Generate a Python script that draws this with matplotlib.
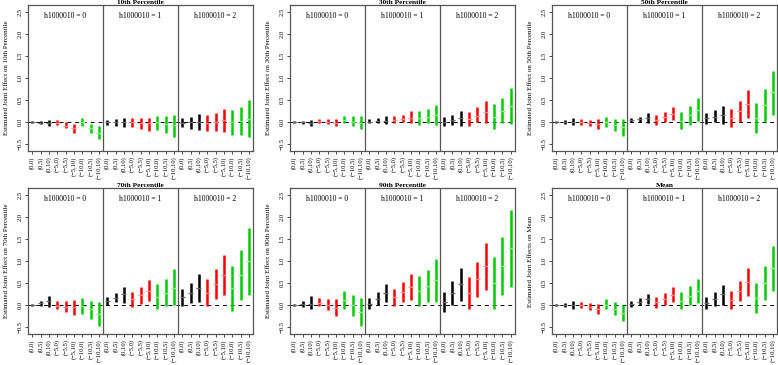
import numpy as np
import matplotlib.pyplot as plt

plt.rcParams['font.family'] = ['Liberation Serif', 'DejaVu Serif']

# categories on each facet: (change a, change b)
cats = ["(0,0)", "(0,5)", "(0,10)", "(\u22125,0)", "(\u22125,5)", "(\u22125,10)",
        "(\u221210,0)", "(\u221210,5)", "(\u221210,10)"]
facets = [0, 1, 2]
titles = ["10th Percentile", "30th Percentile", "50th Percentile",
          "70th Percentile", "90th Percentile", "Mean"]
ylabels = ["Estimated Joint Effect on 10th Percentile",
           "Estimated Joint Effect on 30th Percentile",
           "Estimated Joint Effect on 50th Percentile",
           "Estimated Joint Effect on 70th Percentile",
           "Estimated Joint Effect on 90th Percentile",
           "Estimated Joint Effects on Mean"]

# estimates and interval ends, 27 per panel (facet 0, 1, 2 x 9 categories)
p10_est = [0.00, -0.02, -0.03, -0.02, -0.08, -0.14, 0.00, -0.13, -0.25,
           -0.01, -0.01, -0.01, 0.00, -0.02, -0.02, 0.00, -0.05, -0.06,
           -0.02, -0.01, 0.00, -0.02, 0.00, 0.04, -0.01, 0.02, 0.07]
p10_lo = [-0.02, -0.05, -0.10, -0.07, -0.14, -0.24, -0.08, -0.24, -0.38,
          -0.06, -0.08, -0.12, -0.12, -0.15, -0.20, -0.19, -0.24, -0.33,
          -0.12, -0.15, -0.18, -0.20, -0.20, -0.22, -0.30, -0.30, -0.35]
p10_hi = [0.02, 0.02, 0.04, 0.04, -0.01, -0.05, 0.08, -0.04, -0.10,
          0.04, 0.06, 0.08, 0.08, 0.09, 0.10, 0.14, 0.13, 0.15,
          0.08, 0.11, 0.18, 0.15, 0.20, 0.29, 0.27, 0.34, 0.49]

p30_est = [0.00, -0.01, -0.02, 0.02, 0.00, -0.02, 0.05, 0.00, -0.02,
           0.01, 0.02, 0.03, 0.04, 0.07, 0.10, 0.08, 0.12, 0.17,
           0.00, 0.04, 0.08, 0.06, 0.14, 0.22, 0.12, 0.24, 0.36]
p30_lo = [-0.02, -0.04, -0.09, -0.02, -0.05, -0.10, -0.02, -0.08, -0.17,
          -0.03, -0.03, -0.05, -0.03, -0.01, -0.02, -0.06, -0.02, -0.07,
          -0.10, -0.07, -0.10, -0.10, -0.01, -0.02, -0.16, -0.03, -0.05]
p30_hi = [0.02, 0.03, 0.05, 0.07, 0.06, 0.06, 0.14, 0.13, 0.13,
          0.06, 0.08, 0.14, 0.13, 0.17, 0.24, 0.24, 0.30, 0.39,
          0.11, 0.17, 0.26, 0.23, 0.33, 0.47, 0.40, 0.55, 0.77]

p50_est = [0.00, 0.00, 0.00, 0.00, -0.02, -0.05, 0.00, -0.06, -0.12,
           0.05, 0.06, 0.08, 0.05, 0.12, 0.18, 0.03, 0.16, 0.28,
           0.08, 0.12, 0.16, 0.10, 0.26, 0.42, 0.10, 0.38, 0.68]
p50_lo = [-0.02, -0.04, -0.07, -0.06, -0.10, -0.17, -0.12, -0.20, -0.31,
          0.00, 0.00, -0.03, -0.06, 0.00, 0.05, -0.15, -0.06, 0.02,
          -0.04, -0.01, -0.05, -0.12, 0.01, 0.10, -0.24, 0.00, 0.16]
p50_hi = [0.02, 0.05, 0.09, 0.06, 0.05, 0.06, 0.11, 0.07, 0.07,
          0.09, 0.12, 0.20, 0.15, 0.23, 0.34, 0.23, 0.37, 0.55,
          0.20, 0.27, 0.37, 0.29, 0.48, 0.72, 0.43, 0.75, 1.17]

p70_est = [0.00, 0.04, 0.08, -0.02, -0.04, -0.05, -0.03, -0.10, -0.21,
           0.09, 0.17, 0.24, 0.13, 0.22, 0.32, 0.19, 0.28, 0.39,
           0.18, 0.28, 0.39, 0.28, 0.48, 0.69, 0.38, 0.68, 0.99]
p70_lo = [-0.02, -0.02, -0.05, -0.10, -0.15, -0.23, -0.20, -0.32, -0.48,
          0.00, 0.06, 0.05, -0.04, 0.03, 0.08, -0.10, -0.02, 0.00,
          -0.02, 0.04, 0.06, -0.02, 0.14, 0.22, -0.13, 0.12, 0.23]
p70_hi = [0.02, 0.10, 0.21, 0.08, 0.08, 0.11, 0.16, 0.10, 0.07,
          0.18, 0.28, 0.42, 0.30, 0.42, 0.57, 0.47, 0.60, 0.81,
          0.37, 0.51, 0.71, 0.58, 0.82, 1.14, 0.88, 1.25, 1.74]

p90_est = [0.00, 0.02, 0.03, 0.05, 0.00, -0.06, 0.12, 0.00, -0.17,
           0.03, 0.14, 0.27, 0.18, 0.29, 0.41, 0.32, 0.43, 0.56,
           0.07, 0.27, 0.48, 0.28, 0.58, 0.88, 0.49, 0.88, 1.29]
p90_lo = [-0.03, -0.05, -0.09, -0.03, -0.12, -0.25, -0.08, -0.26, -0.47,
          -0.08, 0.00, 0.06, -0.02, 0.06, 0.12, -0.02, 0.07, 0.07,
          -0.17, 0.01, 0.10, -0.08, 0.19, 0.35, -0.10, 0.23, 0.42]
p90_hi = [0.03, 0.10, 0.20, 0.16, 0.13, 0.13, 0.32, 0.22, 0.15,
          0.15, 0.30, 0.48, 0.37, 0.52, 0.71, 0.65, 0.80, 1.05,
          0.29, 0.54, 0.85, 0.63, 0.97, 1.41, 1.08, 1.55, 2.15]

mean_est = [0.00, 0.00, 0.00, 0.00, -0.04, -0.08, 0.01, -0.08, -0.18,
            0.02, 0.07, 0.13, 0.07, 0.14, 0.22, 0.09, 0.21, 0.32,
            0.04, 0.14, 0.25, 0.11, 0.32, 0.53, 0.17, 0.51, 0.83]
mean_lo = [-0.02, -0.04, -0.08, -0.06, -0.12, -0.20, -0.10, -0.23, -0.37,
           -0.05, -0.01, 0.02, -0.06, 0.01, 0.07, -0.10, -0.01, 0.04,
           -0.08, -0.03, 0.00, -0.10, 0.09, 0.21, -0.18, 0.12, 0.31]
mean_hi = [0.02, 0.04, 0.10, 0.07, 0.05, 0.03, 0.14, 0.07, 0.01,
           0.09, 0.15, 0.25, 0.18, 0.27, 0.40, 0.30, 0.43, 0.60,
           0.18, 0.30, 0.45, 0.32, 0.55, 0.84, 0.51, 0.88, 1.34]

panels = [(p10_est, p10_lo, p10_hi), (p30_est, p30_lo, p30_hi),
          (p50_est, p50_lo, p50_hi), (p70_est, p70_lo, p70_hi),
          (p90_est, p90_lo, p90_hi), (mean_est, mean_lo, mean_hi)]

bar_cols = ['black'] * 3 + ['#ff0000'] * 3 + ['#00cc00'] * 3
pt_cols = ['#666666'] * 3 + ['#ff9090'] * 3 + ['#90f090'] * 3
frame = '#555555'

W, H = 778, 365
lefts = [28, 290, 552]
tops = [5.4, 188.4]
aw, ah = 225, 145.2

fig = plt.figure(figsize=(W / 100, H / 100), dpi=100)

x = np.arange(1, len(cats) * len(facets) + 1)
labels = cats * len(facets)

for i, (est, lo, hi) in enumerate(panels):
    r, c = divmod(i, 3)
    ax = fig.add_axes([lefts[c] / W, 1 - (tops[r] + ah) / H, aw / W, ah / H])

    ax.axhline(0, color='black', lw=0.7, ls=(0, (4, 4)), zorder=1)
    ax.vlines(x, lo, hi, colors=bar_cols * 3, lw=1.8, zorder=2)
    ax.scatter(x, est, marker='_', c=pt_cols * 3, s=14, linewidths=0.9, zorder=3)

    for k in facets:
        if k > 0:
            ax.axvline(9 * k + 0.5, color=frame, lw=0.9)
        ax.text(9 * k + 5, 2.41, f"h1000010 = {k}", ha='center', va='center',
                fontsize=5.5)

    ax.set_xlim(0.5, 27.5)
    ax.set_ylim(-0.65, 2.65)
    ax.set_xticks(x)
    ax.set_xticklabels(labels, rotation=90, fontsize=4.7)
    ax.set_yticks([-0.5, 0.0, 0.5, 1.0, 1.5, 2.0, 2.5])
    ax.set_yticklabels(["\u22120.5", "0.0", "0.5", "1.0", "1.5", "2.0", "2.5"],
                       rotation=90, va='center', fontsize=4.8)
    ax.tick_params(direction='out', length=2.5, width=0.5, pad=1.5, colors='black')
    for s in ax.spines.values():
        s.set_color(frame)
        s.set_linewidth(0.9)

    ax.set_ylabel(ylabels[i], fontsize=5)
    ax.yaxis.set_label_coords(-0.085, 0.5)
    ax.text(0.5, 1.006, titles[i], transform=ax.transAxes, ha='center',
            va='bottom', fontsize=5.3, fontweight='bold')

fig.savefig('out.png', dpi=100)
